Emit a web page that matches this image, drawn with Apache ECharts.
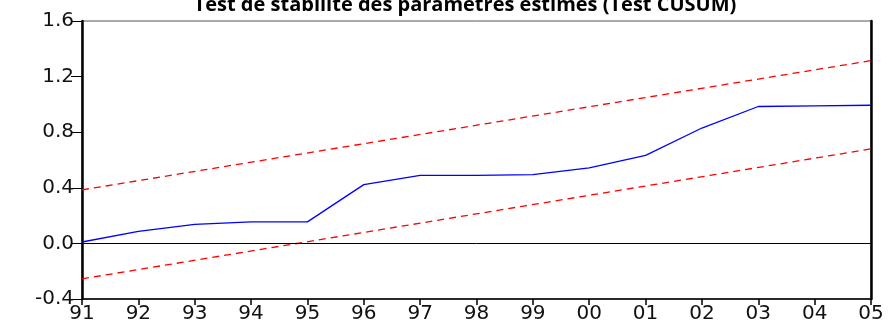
<!DOCTYPE html>
<html>
<head>
<meta charset="utf-8">
<script src="https://cdn.jsdelivr.net/npm/echarts@6/dist/echarts.min.js"></script>
<style>html,body{margin:0;padding:0;background:#fff}#c{width:890px;height:324px}</style>
</head>
<body>
<div id="c"></div>
<script>
var titleText = "Test de stabilité des paramètres estimés (Test CUSUM)";
var years = [1991,1992,1993,1994,1995,1996,1997,1998,1999,2000,2001,2002,2003,2004,2005];
var cusum = [0.01,0.086,0.137,0.155,0.155,0.423,0.49,0.49,0.495,0.543,0.633,0.83,0.985,0.99,0.994];
var boundYears = [1991, 2005];
var upperBound = [0.385, 1.315];
var lowerBound = [-0.255, 0.68];
var yTicks = [-0.4, 0.0, 0.4, 0.8, 1.2, 1.6];

function pairs(xs, ys){ return xs.map(function(x,i){ return [x, ys[i]]; }); }

var chart = echarts.init(document.getElementById('c'), null, {renderer:'canvas'});
var labelFont = {color:'#111', fontFamily:'DejaVu Sans', fontSize:20};
chart.setOption({
  animation:false,
  title:{text:titleText, left:460, textAlign:'center', top:-10,
    textStyle:{fontFamily:'Open Sans', fontWeight:'bold', fontSize:20, color:'#000'}},
  grid:{left:82, right:19, top:21, bottom:24, show:true, borderColor:'#555', borderWidth:1, backgroundColor:'#fff'},
  xAxis:{type:'value', min:years[0], max:years[years.length-1], interval:1,
    axisLine:{show:true, onZero:false, lineStyle:{color:'#000', width:1.5}},
    axisTick:{show:true, length:6, lineStyle:{color:'#000', width:1.5}},
    splitLine:{show:false},
    axisLabel:Object.assign({margin:5, formatter:function(v){ return String(v).slice(2); }}, labelFont)
  },
  yAxis:[{type:'value', min:yTicks[0], max:yTicks[yTicks.length-1], interval:0.4,
    axisLine:{show:true, onZero:false, lineStyle:{color:'#000', width:2.5}},
    axisTick:{show:true, length:11, lineStyle:{color:'#000', width:1}},
    splitLine:{show:false},
    axisLabel:Object.assign({margin:8, formatter:function(v){ return v.toFixed(1); }}, labelFont)
  },{type:'value', position:'right', min:yTicks[0], max:yTicks[yTicks.length-1], interval:0.4,
    axisLine:{show:true, onZero:false, lineStyle:{color:'#000', width:2.5}},
    axisTick:{show:false}, axisLabel:{show:false}, splitLine:{show:false}}],
  series:[
    {type:'line', data:pairs(years, cusum), symbol:'none', lineStyle:{color:'#0000ff', width:1.3},
     markLine:{silent:true, symbol:'none', label:{show:false}, lineStyle:{color:'#000', width:1, type:'solid'}, data:[{yAxis:0}]}},
    {type:'line', data:pairs(boundYears, upperBound), symbol:'none', lineStyle:{color:'#ff0000', width:1.3, type:[7,5]}},
    {type:'line', data:pairs(boundYears, lowerBound), symbol:'none', lineStyle:{color:'#ff0000', width:1.3, type:[7,5]}}
  ]
});
</script>
</body>
</html>
